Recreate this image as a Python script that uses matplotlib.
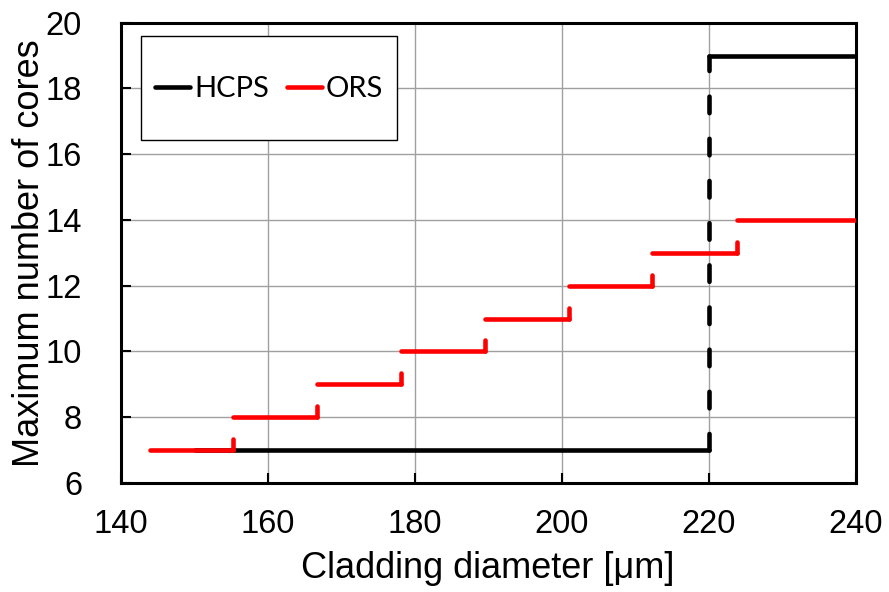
import matplotlib
matplotlib.use("Agg")
import matplotlib.pyplot as plt
from matplotlib.patches import Rectangle
from matplotlib.lines import Line2D

# Data
ors_edges = [144, 155.3, 166.7, 178.1, 189.5, 200.9, 212.3, 223.8, 240]
ors_cores = [7, 8, 9, 10, 11, 12, 13, 14]
hcps_edges = [150, 220, 240]
hcps_cores = [7, 19]
xticks = [140, 160, 180, 200, 220, 240]
yticks = [6, 8, 10, 12, 14, 16, 18, 20]

W, H = 889, 592
fig = plt.figure(figsize=(W / 100, H / 100), dpi=100)
ax = fig.add_axes([121 / W, 1 - 483 / H, (856 - 121) / W, (483 - 22.7) / H])

lw = 3.3
tick_font = {"family": ["Liberation Sans", "DejaVu Sans"], "size": 23.5}

def draw_steps(edges, vals, color, dash):
    for i, v in enumerate(vals):
        ax.plot([edges[i], edges[i + 1]], [v, v], color=color, lw=lw,
                solid_capstyle="round", zorder=3)
        if i > 0:
            ax.plot([edges[i], edges[i]], [vals[i - 1], v], color=color, lw=lw,
                    linestyle=(0, dash), dash_capstyle="round", zorder=3)

draw_steps(hcps_edges, hcps_cores, "black", (3.6, 5.6))
draw_steps(ors_edges, ors_cores, "#ff0000", (2.4, 5.3))

ax.set_xlim(140, 240)
ax.set_ylim(6, 20)
ax.set_xticks(xticks)
ax.set_yticks(yticks)
ax.set_xticklabels([str(t) for t in xticks], fontdict=tick_font)
ax.set_yticklabels([str(t) for t in yticks], fontdict=tick_font)
ax.grid(True, color="#a0a0a0", lw=1.0, zorder=0)
ax.set_axisbelow(True)
ax.tick_params(axis="both", direction="in", length=7, width=1.5, color="black")
ax.tick_params(axis="x", pad=19)
ax.tick_params(axis="y", pad=28)
for s in ax.spines.values():
    s.set_linewidth(2.2)
    s.set_color("black")

lab_font = dict(family=["Liberation Sans", "DejaVu Sans"], size=26)
fig.text(30 / W, 1 - 253 / H, "Maximum number of cores", rotation=90,
         ha="center", va="center", **lab_font)
fig.text(488 / W, 1 - 569 / H, "Cladding diameter [\u03bcm]",
         ha="center", va="center", **lab_font)

# Legend box
rect = Rectangle((141 / W, 1 - 140 / H), (397 - 141) / W, (140 - 36) / H,
                 transform=fig.transFigure, facecolor="white", edgecolor="black",
                 lw=1.0, zorder=5)
ax.add_patch(rect)
handles = [Line2D([0], [0], color="black", lw=lw, solid_capstyle="round"),
           Line2D([0], [0], color="#ff0000", lw=lw, solid_capstyle="round")]
leg = ax.legend(handles, ["HCPS", "ORS"], ncol=2, frameon=False,
                loc="center", bbox_to_anchor=(269 / W, 1 - 89 / H),
                bbox_transform=fig.transFigure,
                prop={"family": ["Lato", "DejaVu Sans"], "size": 21},
                handlelength=1.2, handletextpad=0.15, columnspacing=0.6,
                borderpad=0)
leg.set_zorder(6)

fig.savefig("out.png", dpi=100)
